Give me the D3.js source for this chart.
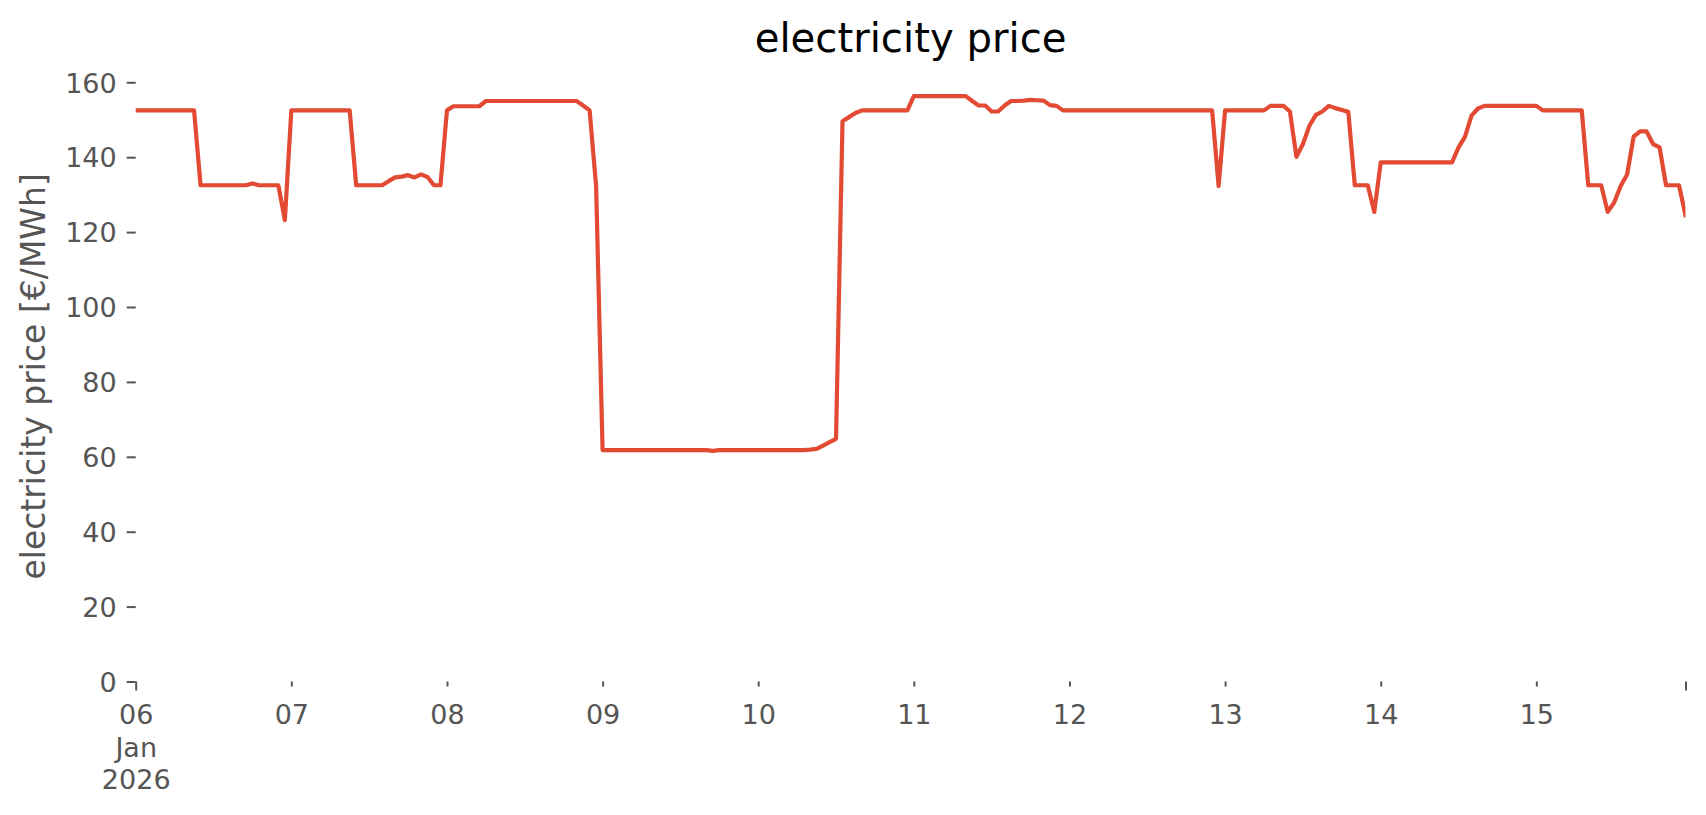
<!DOCTYPE html>
<html><head><meta charset="utf-8">
<script src="https://cdn.jsdelivr.net/npm/d3@7"></script>
<style>
body{margin:0;background:#fff}
svg{display:block;background:#fff}
text{font-family:"DejaVu Sans",sans-serif}
</style>
</head><body>
<svg id="chart" width="1706" height="815"></svg>
<script>
// ---- data (hourly electricity price, €/MWh) ----
const startDate = "2026-01-06T00:00:00Z";
const day06 = [152.5,152.5,152.5,152.5,152.5,152.5,152.5,152.5,152.5,152.5,132.5,132.5,132.5,132.5,132.5,132.5,132.5,132.5,133.0,132.5,132.5,132.5,132.5,123.2];
const day07 = [152.5,152.5,152.5,152.5,152.5,152.5,152.5,152.5,152.5,152.5,132.5,132.5,132.5,132.5,132.5,133.6,134.6,134.8,135.2,134.6,135.4,134.7,132.5,132.5];
const day08 = [152.5,153.6,153.6,153.6,153.6,153.6,155.0,155.0,155.0,155.0,155.0,155.0,155.0,155.0,155.0,155.0,155.0,155.0,155.0,155.0,155.0,153.8,152.5,132.3];
const day09 = [61.8,61.8,61.8,61.8,61.8,61.8,61.8,61.8,61.8,61.8,61.8,61.8,61.8,61.8,61.8,61.8,61.8,61.6,61.8,61.8,61.8,61.8,61.8,61.8];
const day10 = [61.8,61.8,61.8,61.8,61.8,61.8,61.8,61.8,61.9,62.1,63.0,63.9,64.8,149.6,150.7,151.8,152.5,152.5,152.5,152.5,152.5,152.5,152.5,152.5];
const day11 = [156.3,156.3,156.3,156.3,156.3,156.3,156.3,156.3,156.3,155.0,153.8,153.8,152.2,152.2,153.8,155.0,155.0,155.1,155.3,155.2,155.1,153.9,153.7,152.5];
const day12 = [152.5,152.5,152.5,152.5,152.5,152.5,152.5,152.5,152.5,152.5,152.5,152.5,152.5,152.5,152.5,152.5,152.5,152.5,152.5,152.5,152.5,152.5,152.5,132.3];
const day13 = [152.5,152.5,152.5,152.5,152.5,152.5,152.5,153.7,153.7,153.7,152.2,140.1,143.5,148.4,151.3,152.2,153.7,153.1,152.6,152.1,132.5,132.5,132.5,125.4];
const day14 = [138.6,138.6,138.6,138.6,138.6,138.6,138.6,138.6,138.6,138.6,138.6,138.6,142.6,145.5,151.1,153.0,153.7,153.7,153.7,153.7,153.7,153.7,153.7,153.7];
const day15 = [153.7,152.5,152.5,152.5,152.5,152.5,152.5,152.5,132.5,132.5,132.5,125.4,127.9,132.3,135.4,145.5,146.9,146.9,143.5,142.6,132.5,132.5,132.5,124.5];
const yTicks = [0,20,40,60,80,100,120,140,160];
const firstTickLabel = ["06","Jan","2026"];
const titleText = "electricity price";
const yLabelText = "electricity price [€/MWh]";

// ---- build ----
const prices = [].concat(day06,day07,day08,day09,day10,day11,day12,day13,day14,day15);
const t0 = new Date(startDate);
const data = prices.map((v,i)=>({t: d3.utcHour.offset(t0,i), v}));

const svg = d3.select("#chart");
const L = 135.7, R = 1685.5, B = 681.5, T = 67.3;
const x = d3.scaleUtc().domain([data[0].t, data[data.length-1].t]).range([L,R]);
const y = d3.scaleLinear().domain([0,164]).range([B,T]);

const grey = "#555555";
const tickFont = 27;

// clip
svg.append("defs").append("clipPath").attr("id","clip")
  .append("rect").attr("x",L).attr("y",T).attr("width",R-L).attr("height",B-T);

// y axis
const yAxis = svg.append("g").attr("transform",`translate(${L},0)`)
  .call(d3.axisLeft(y).tickValues(yTicks).tickSize(9).tickPadding(10).tickFormat(d3.format("d")));
yAxis.select(".domain").remove();
yAxis.selectAll(".tick line").attr("stroke",grey).attr("stroke-width",2);
yAxis.selectAll(".tick text").attr("fill",grey).attr("font-size",tickFont)
  .attr("font-family","DejaVu Sans").attr("dy","0.36em");

// x minor axis (day ticks)
const dayTicks = d3.utcDay.range(d3.utcDay.offset(t0,1), d3.utcDay.offset(t0,10));
const xMinor = svg.append("g").attr("transform",`translate(0,${B})`)
  .call(d3.axisBottom(x).tickValues(dayTicks).tickSize(5).tickFormat(d3.utcFormat("%d")));
xMinor.select(".domain").remove();
xMinor.selectAll(".tick line").attr("stroke",grey).attr("stroke-width",2);
xMinor.selectAll(".tick text").attr("fill",grey).attr("font-size",tickFont)
  .attr("font-family","DejaVu Sans").attr("y",42.5).attr("dy",0);

// x major axis (start + end)
const majorTicks = [data[0].t, data[data.length-1].t];
const xMajor = svg.append("g").attr("transform",`translate(0,${B})`)
  .call(d3.axisBottom(x).tickValues(majorTicks).tickSize(9).tickFormat(""));
xMajor.select(".domain").remove();
xMajor.selectAll(".tick line").attr("stroke",grey).attr("stroke-width",2);
xMajor.selectAll(".tick text").remove();
const firstTick = xMajor.select(".tick");
const ft = firstTick.append("text").attr("fill",grey).attr("font-size",tickFont)
  .attr("font-family","DejaVu Sans").attr("text-anchor","middle");
firstTickLabel.forEach((s,i)=>{
  ft.append("tspan").attr("x",0).attr("y",42.5 + i*32.7).text(s);
});

// line
const line = d3.line().x(d=>x(d.t)).y(d=>y(d.v));
svg.append("path").datum(data).attr("clip-path","url(#clip)")
  .attr("d",line).attr("fill","none").attr("stroke","#E24A33")
  .attr("stroke-width",4.2).attr("stroke-linejoin","round").attr("stroke-linecap","square");

// title
svg.append("text").attr("x",(L+R)/2).attr("y",52).attr("text-anchor","middle")
  .attr("font-size",40.2).attr("fill","#000").text(titleText);

// y label
svg.append("text").attr("transform",`translate(45,${(B+T)/2+2}) rotate(-90)`)
  .attr("text-anchor","middle").attr("font-size",33).attr("fill",grey).text(yLabelText);
</script>
</body></html>
